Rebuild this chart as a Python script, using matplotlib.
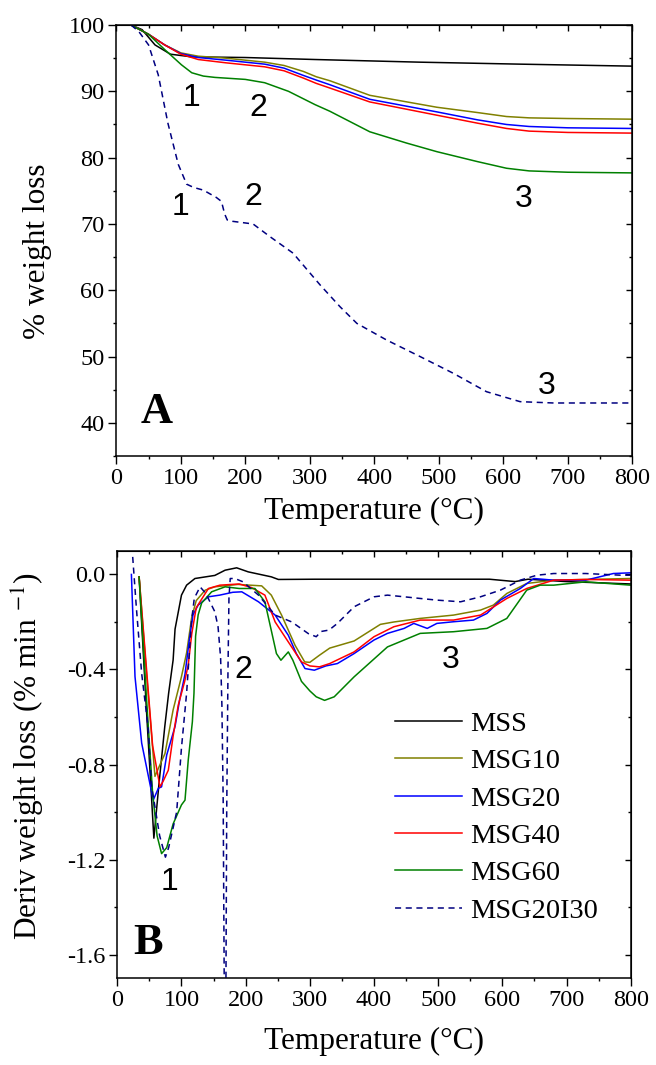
import matplotlib
matplotlib.use('Agg')
import matplotlib.pyplot as plt
from matplotlib.ticker import MultipleLocator

plt.rcParams['font.family'] = ['Liberation Serif', 'DejaVu Serif']
plt.rcParams['mathtext.fontset'] = 'stix'
plt.rcParams['axes.unicode_minus'] = False

# ---- panel A: TGA curves (temperature in °C, % weight) ----
t_mss = [23, 40, 60, 84, 117, 200, 308, 470, 626, 800]
w_mss = [100, 99.3, 97.0, 95.6, 95.2, 95.1, 94.8, 94.4, 94.1, 93.8]

t_msg = [23, 50, 75, 100, 127, 170, 230, 260, 290, 310, 331, 393, 497, 560, 605, 640, 700, 800]
w_msg10 = [100, 98.6, 97.0, 95.8, 95.3, 95.0, 94.4, 93.9, 93.0, 92.2, 91.6, 89.4, 87.6, 86.8, 86.2, 86.0, 85.9, 85.8]
w_msg20 = [100, 98.6, 97.0, 95.7, 95.1, 94.7, 94.1, 93.5, 92.4, 91.7, 91.0, 88.8, 86.9, 85.7, 85.0, 84.7, 84.5, 84.4]
w_msg40 = [100, 98.6, 97.0, 95.6, 94.8, 94.3, 93.7, 93.1, 92.0, 91.2, 90.5, 88.4, 86.4, 85.2, 84.4, 84.0, 83.8, 83.7]

t_msg60 = [23, 50, 75, 101, 117, 135, 153, 200, 230, 267, 308, 331, 393, 450, 497, 560, 605, 640, 700, 800]
w_msg60 = [100, 98.6, 96.3, 94.0, 92.8, 92.3, 92.1, 91.8, 91.3, 90.0, 88.0, 87.0, 83.9, 82.2, 80.9, 79.4, 78.4, 78.0, 77.8, 77.7]

t_i30 = [23, 35, 50, 65, 80, 96, 109, 120, 135, 155, 163, 168, 172, 180, 212, 238, 274, 316,
         347, 373, 419, 471, 522, 574, 626, 678, 800]
w_i30 = [100, 99.0, 97.0, 92.5, 85.2, 79.0, 76.0, 75.5, 75.1, 74.0, 73.4, 71.5, 70.6, 70.4, 70.0, 68.1, 65.6, 60.8,
         57.5, 55.0, 52.5, 50.0, 47.5, 44.7, 43.2, 43.0, 43.0]

# ---- panel B: DTG curves (% / min) ----
td_mss = [34, 45, 57, 65, 74, 80, 87, 90, 100, 108, 121, 152, 168, 186, 204, 240, 251, 308, 400, 500, 580, 620, 640, 700, 800]
d_mss = [-0.01, -0.55, -1.11, -0.88, -0.64, -0.5, -0.36, -0.23, -0.087, -0.045, -0.017, -0.004, 0.018, 0.028, 0.011,
         -0.01, -0.021, -0.02, -0.02, -0.02, -0.02, -0.03, -0.02, -0.03, -0.04]

td_10 = [34, 45, 58.7, 65, 74.3, 87, 100, 108, 116, 123, 137, 152, 188, 225, 240, 256, 277, 292, 300, 315, 331,
         369, 410, 431, 472, 524, 566, 586, 607, 638, 680, 730, 800]
d_10 = [-0.01, -0.4, -0.85, -0.81, -0.754, -0.57, -0.43, -0.33, -0.18, -0.11, -0.066, -0.052, -0.042, -0.048, -0.087,
        -0.171, -0.298, -0.368, -0.37, -0.34, -0.31, -0.28, -0.21, -0.20, -0.185, -0.171, -0.15, -0.129, -0.08,
        -0.038, -0.024, -0.021, -0.017]

td_20 = [22, 27.6, 38, 56, 64, 69, 77, 90, 97, 105.5, 112, 118, 126, 142, 159.5, 180, 194, 220, 246, 266.5, 279,
         292.5, 307, 325, 343, 369, 400, 421, 447, 462, 483, 498, 524, 555, 576, 597, 628, 649, 680, 730, 773, 800]
d_20 = [0.0, -0.43, -0.71, -0.95, -0.9, -0.894, -0.76, -0.64, -0.53, -0.42, -0.28, -0.17, -0.129, -0.094, -0.087,
        -0.075, -0.073, -0.115, -0.171, -0.256, -0.333, -0.396, -0.403, -0.385, -0.375, -0.333, -0.276, -0.248,
        -0.227, -0.206, -0.227, -0.206, -0.199, -0.192, -0.164, -0.108, -0.059, -0.017, -0.024, -0.024, 0.004, 0.007]

td_40 = [34, 45, 55, 66.5, 71.5, 79.5, 87, 95, 105, 110.6, 116, 123, 142, 160, 190, 209, 230, 246, 266.5, 287,
         300, 315, 331, 369, 400, 431, 472, 524, 566, 607, 638, 680, 730, 800]
d_40 = [-0.01, -0.38, -0.72, -0.894, -0.87, -0.824, -0.68, -0.55, -0.45, -0.38, -0.25, -0.14, -0.059, -0.045,
        -0.04, -0.055, -0.087, -0.2, -0.284, -0.368, -0.385, -0.389, -0.375, -0.326, -0.262, -0.22, -0.192,
        -0.192, -0.171, -0.101, -0.059, -0.024, -0.021, -0.024]

td_60 = [34, 45, 55, 62, 69, 77, 87, 100, 105.5, 110.6, 117, 119.5, 122, 126, 131.5, 147, 168, 190, 214.5, 230,
         240.5, 248, 255, 266.5, 273.6, 287, 300, 310, 323, 338, 369, 421, 472, 524, 576, 607, 638, 659, 680,
         730, 800]
d_60 = [-0.01, -0.5, -0.92, -1.1, -1.175, -1.15, -1.05, -0.97, -0.95, -0.78, -0.62, -0.5, -0.26, -0.17, -0.12,
        -0.073, -0.052, -0.059, -0.059, -0.115, -0.242, -0.333, -0.361, -0.326, -0.361, -0.45, -0.49, -0.515,
        -0.53, -0.515, -0.431, -0.305, -0.248, -0.241, -0.227, -0.185, -0.066, -0.045, -0.045, -0.031, -0.045]

td_i30 = [24, 30, 38, 48, 53.6, 60, 66, 75, 80, 92.5, 100, 108, 115.5, 120, 129, 138, 152, 157, 161, 163, 165,
          167, 169, 170.5, 172.5, 174, 176, 183, 196, 220, 246, 272, 297.7, 310, 317.6, 330, 343, 369, 400, 421,
          447, 472, 498, 535, 566, 597, 628, 654, 680, 730, 784, 800]
d_i30 = [0.074, -0.15, -0.417, -0.642, -0.894, -1.0, -1.1, -1.19, -1.15, -1.0, -0.73, -0.5, -0.2, -0.1, -0.052,
         -0.08, -0.157, -0.22, -0.35, -0.55, -0.95, -1.9, -1.9, -1.0, -0.4, -0.1, -0.017, -0.017, -0.031, -0.087,
         -0.171, -0.2, -0.249, -0.262, -0.24, -0.234, -0.206, -0.136, -0.094, -0.087, -0.094, -0.101, -0.108,
         -0.115, -0.094, -0.066, -0.024, -0.003, 0.004, 0.004, -0.003, -0.003]

names = ['MSS', 'MSG10', 'MSG20', 'MSG40', 'MSG60', 'MSG20I30']
colors = ['black', '#808000', '#0000ff', '#ff0000', '#008000', '#000080']

lw = 1.1
dash = (0, (4, 3))
tick_fs = 17.5
label_fs = 22.5
sans = ['Liberation Sans', 'DejaVu Sans']

fig = plt.figure(figsize=(6.56, 10.65), dpi=100)
axA = fig.add_axes([0.1773, 0.5718, 0.7866, 0.4047])
axB = fig.add_axes([0.1788, 0.0814, 0.7826, 0.4015])


def style(ax, ymajor, yminor):
    ax.xaxis.set_major_locator(MultipleLocator(100))
    ax.xaxis.set_minor_locator(MultipleLocator(50))
    ax.yaxis.set_major_locator(MultipleLocator(ymajor))
    ax.yaxis.set_minor_locator(MultipleLocator(yminor))
    ax.tick_params(which='major', direction='out', length=5.5, width=1, labelsize=tick_fs, pad=3)
    ax.tick_params(which='minor', direction='out', length=2.5, width=1)
    for s in ax.spines.values():
        s.set_linewidth(1.1)
    # inward ticks on top and right
    top = ax.secondary_xaxis('top')
    right = ax.secondary_yaxis('right')
    for sec in (top, right):
        sec.tick_params(which='major', direction='in', length=4, width=1, labelsize=0)
        sec.tick_params(which='minor', direction='in', length=2.5, width=1)
    top.xaxis.set_major_locator(MultipleLocator(100))
    top.xaxis.set_minor_locator(MultipleLocator(50))
    top.set_xticklabels([])
    right.yaxis.set_major_locator(MultipleLocator(ymajor))
    right.yaxis.set_minor_locator(MultipleLocator(yminor))
    right.set_yticklabels([])


# panel A
axA.plot(t_mss, w_mss, color=colors[0], lw=lw)
axA.plot(t_msg, w_msg10, color=colors[1], lw=lw)
axA.plot(t_msg, w_msg20, color=colors[2], lw=lw)
axA.plot(t_msg, w_msg40, color=colors[3], lw=lw)
axA.plot(t_msg60, w_msg60, color=colors[4], lw=lw)
axA.plot(t_i30, w_i30, color=colors[5], lw=lw, linestyle=dash)
axA.set_xlim(0, 800)
axA.set_ylim(35, 100)
style(axA, 10, 5)
axA.set_xlabel('Temperature (°C)', fontsize=label_fs)
axA.set_ylabel('% weight loss', fontsize=label_fs)
axA.xaxis.set_label_coords(0.5, -0.095)
axA.yaxis.set_label_coords(-0.125, 0.474)
for x, y, s in [(117, 89.0, '1'), (220, 87.5, '2'), (99, 72.6, '1'), (212, 74.1, '2'), (632, 73.8, '3'), (667, 45.6, '3')]:
    axA.text(x, y, s, fontsize=23, family=sans, ha='center', va='center')
axA.text(37, 40, 'A', fontsize=32, fontweight='bold', ha='left', va='baseline')

# panel B
for t, d, c, n in [(td_mss, d_mss, colors[0], names[0]), (td_10, d_10, colors[1], names[1]),
                   (td_20, d_20, colors[2], names[2]), (td_40, d_40, colors[3], names[3]),
                   (td_60, d_60, colors[4], names[4])]:
    axB.plot(t, d, color=c, lw=lw, label=n)
axB.plot(td_i30, d_i30, color=colors[5], lw=lw, linestyle=dash, label=names[5])
axB.set_xlim(0, 800)
axB.set_ylim(-1.7, 0.1)
style(axB, 0.4, 0.2)
axB.set_xlabel('Temperature (°C)', fontsize=label_fs)
axB.set_ylabel('Deriv weight loss (% min $^{-1}$)', fontsize=label_fs)
axB.xaxis.set_label_coords(0.5, -0.113)
axB.yaxis.set_label_coords(-0.137, 0.519)
for x, y, s in [(82, -1.294, '1'), (196, -0.403, '2'), (520, -0.361, '3')]:
    axB.text(x, y, s, fontsize=23, family=sans, ha='center', va='center')
axB.text(25, -1.596, 'B', fontsize=32, fontweight='bold', ha='left', va='baseline')
axB.legend(loc='upper left', bbox_to_anchor=(0.541, 0.625), frameon=False, fontsize=20.5,
           handlelength=2.35, handletextpad=0.3, labelspacing=0.4, borderpad=0, borderaxespad=0)

fig.savefig('out.png', dpi=100)
